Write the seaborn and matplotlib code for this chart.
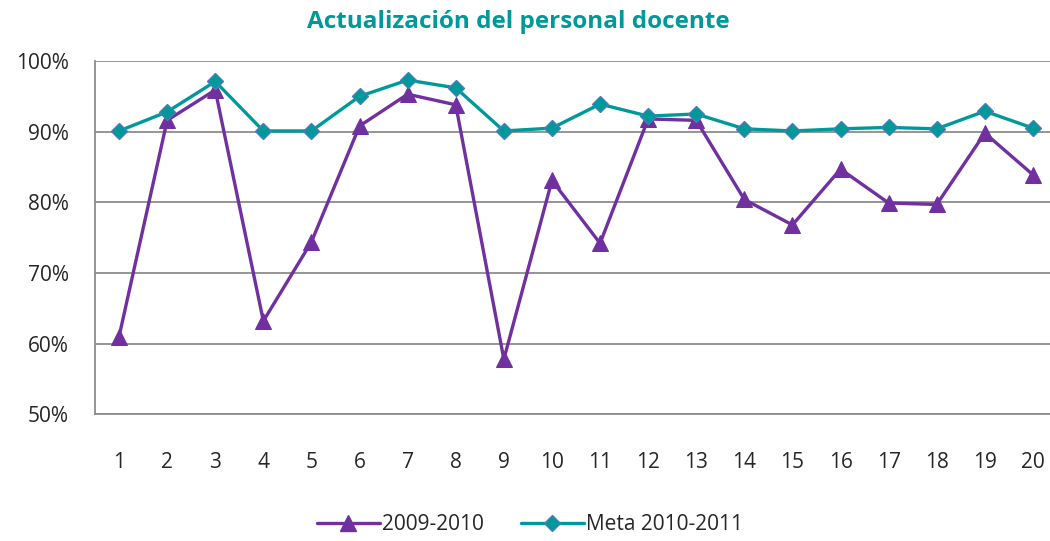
import pandas as pd
import matplotlib
matplotlib.use("Agg")
import matplotlib.pyplot as plt
import seaborn as sns

# values (percent)
items = list(range(1, 21))
serie_2009 = [61.0, 91.6, 95.9, 63.2, 74.4, 90.8, 95.3, 93.8, 57.8, 83.1,
              74.2, 91.8, 91.6, 80.4, 76.8, 84.7, 79.9, 79.7, 89.8, 83.9]
meta_2010 = [90.1, 92.8, 97.1, 90.1, 90.1, 95.0, 97.3, 96.2, 90.1, 90.5,
             93.9, 92.2, 92.5, 90.4, 90.1, 90.4, 90.6, 90.4, 92.9, 90.5]
series_names = ["2009-2010", "Meta 2010-2011"]
y_ticks = [50, 60, 70, 80, 90, 100]
title = "Actualización del personal docente"

purple = "#7030A0"
teal = "#009999"

df = pd.DataFrame({
    "item": items * 2,
    "valor": serie_2009 + meta_2010,
    "serie": [series_names[0]] * len(items) + [series_names[1]] * len(items),
})

sns.set_style("white")
plt.rcParams["font.family"] = ["Open Sans", "DejaVu Sans"]

fig = plt.figure(figsize=(10.5, 5.41), dpi=100)
ax = fig.add_axes([95 / 1050, 126.7 / 541, 962 / 1050, 353.3 / 541])

sns.lineplot(data=df, x="item", y="valor", hue="serie", style="serie",
             palette=[purple, teal], markers=["^", "D"], dashes=False,
             linewidth=2.4, ax=ax, legend=False)

# marker styling per series
ax.lines[0].set_markersize(12)
ax.lines[0].set_markeredgecolor(purple)
ax.lines[1].set_markersize(8)
ax.lines[1].set_markeredgecolor("#4A7EBB")
ax.lines[1].set_markeredgewidth(1.0)

ax.set_xlim(0.5, 20.5)
ax.set_ylim(50, 100)
ax.set_xticks(items)
ax.set_xticklabels([str(i) for i in items])
ax.set_yticks(y_ticks)
ax.set_yticklabels([f"{v}%" for v in y_ticks])
ax.tick_params(axis="x", length=0, pad=27, labelsize=15)
ax.tick_params(axis="y", length=0, pad=19, labelsize=15)
ax.grid(axis="y", color="#8C8C8C", linewidth=1.3)
ax.set_axisbelow(True)
for s in ["top", "right"]:
    ax.spines[s].set_visible(False)
for s in ["left", "bottom"]:
    ax.spines[s].set_color("#8C8C8C")
    ax.spines[s].set_linewidth(1.3)
ax.set_xlabel("")
ax.set_ylabel("")

fig.text(518 / 1050, 1 - 22 / 541, title, ha="center", va="center",
         color=teal, fontsize=17.5, fontweight="bold")

handles = [
    plt.Line2D([], [], color=purple, marker="^", markersize=11, linewidth=2.4,
               markeredgecolor=purple),
    plt.Line2D([], [], color=teal, marker="D", markersize=8, linewidth=2.4,
               markeredgecolor="#4A7EBB"),
]
fig.legend(handles, series_names, loc="center", bbox_to_anchor=(530 / 1050, 1 - 525 / 541),
           ncol=2, frameon=False, fontsize=15, handlelength=3.0, columnspacing=1.8,
           handletextpad=0.1)

fig.savefig("out.png", dpi=100)
